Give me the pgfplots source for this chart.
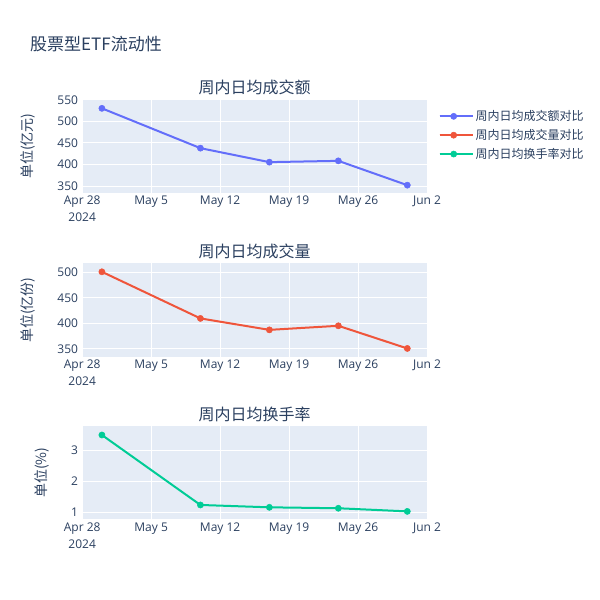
\documentclass[border=0pt]{standalone}
\usepackage{fontspec}
\usepackage{pgfplots}
\pgfplotsset{compat=1.18}
\setmainfont{Open Sans}
\newfontfamily\cjk{Noto Sans CJK SC}
\definecolor{bgc}{HTML}{E5ECF6}
\definecolor{txt}{HTML}{2A3F5F}
\definecolor{c1}{HTML}{636EFA}
\definecolor{c2}{HTML}{EF553B}
\definecolor{c3}{HTML}{00CC96}

\pgfplotsset{
  panel/.style={
    scale only axis, width=346bp, height=93.4bp,
    xmin=-0.07, xmax=35.05,
    xtick={0,7,14,21,28,35},
    xticklabels={{Apr 28\\2024},May 5,May 12,May 19,May 26,Jun 2},
    xticklabel style={align=center, font=\fontsize{12bp}{16.5bp}\selectfont, text=txt},
    yticklabel style={font=\fontsize{12bp}{15bp}\selectfont, text=txt},
    /pgf/number format/assume math mode=true,
    axis line style={draw=none}, major tick style={draw=none},
    axis background/.style={fill=bgc},
    grid=major, major grid style={white, line width=1bp},
    title style={font=\cjk\fontsize{16bp}{18bp}\selectfont, text=txt, yshift=-5.5bp},
    ylabel style={font=\cjk\fontsize{14bp}{16bp}\selectfont, text=txt},
    ylabel shift=15bp,
    clip=false,
  },
  ser/.style={#1, line width=2bp, mark=*, mark size=3.1bp, mark options={fill=#1, draw=#1, line width=0.5bp}},
}

\begin{document}
\begin{tikzpicture}
\useasboundingbox (0,0) rectangle (600bp,-600bp);
\node[anchor=west, inner sep=0pt, text=txt, font=\cjk\fontsize{17bp}{20bp}\selectfont] at (30bp,-44bp) {股票型ETF流动性};

\begin{axis}[panel, at={(81.5bp,-192.7bp)}, anchor=south west,
  ymin=334.5, ymax=551.5, ytick={350,400,450,500,550},
  title={周内日均成交额}, ylabel={单位(亿元)},
  legend style={at={(1,1)}, anchor=north west, xshift=8bp, yshift=-7bp,
    draw=none, fill=none, font=\cjk\fontsize{12bp}{14bp}\selectfont, text=txt,
    row sep=3.2bp},
  legend cell align=left,
  legend image code/.code={\path (0bp,0bp) -- (33bp,0bp);
    \draw[mark repeat=2,mark phase=2,#1] plot coordinates {(0bp,0bp) (14bp,0bp) (28bp,0bp)};},
]
\addplot[ser=c1] coordinates {(2,530.5) (12,438) (19,405.5) (26,408.5) (33,352)};
\addlegendentry{周内日均成交额对比}
\addlegendimage{ser=c2}
\addlegendentry{周内日均成交量对比}
\addlegendimage{ser=c3}
\addlegendentry{周内日均换手率对比}
\end{axis}

\begin{axis}[panel, at={(81.5bp,-356.7bp)}, anchor=south west,
  ymin=334.3, ymax=517.7, ytick={350,400,450,500},
  title={周内日均成交量}, ylabel={单位(亿份)}]
\addplot[ser=c2] coordinates {(2,501) (12,409.5) (19,387) (26,395) (33,350.5)};
\end{axis}

\begin{axis}[panel, at={(81.5bp,-519.3bp)}, anchor=south west,
  ymin=0.787, ymax=3.77, ytick={1,2,3},
  title={周内日均换手率}, ylabel={单位(\%)}]
\addplot[ser=c3] coordinates {(2,3.48) (12,1.245) (19,1.17) (26,1.14) (33,1.04)};
\end{axis}
\end{tikzpicture}
\end{document}
